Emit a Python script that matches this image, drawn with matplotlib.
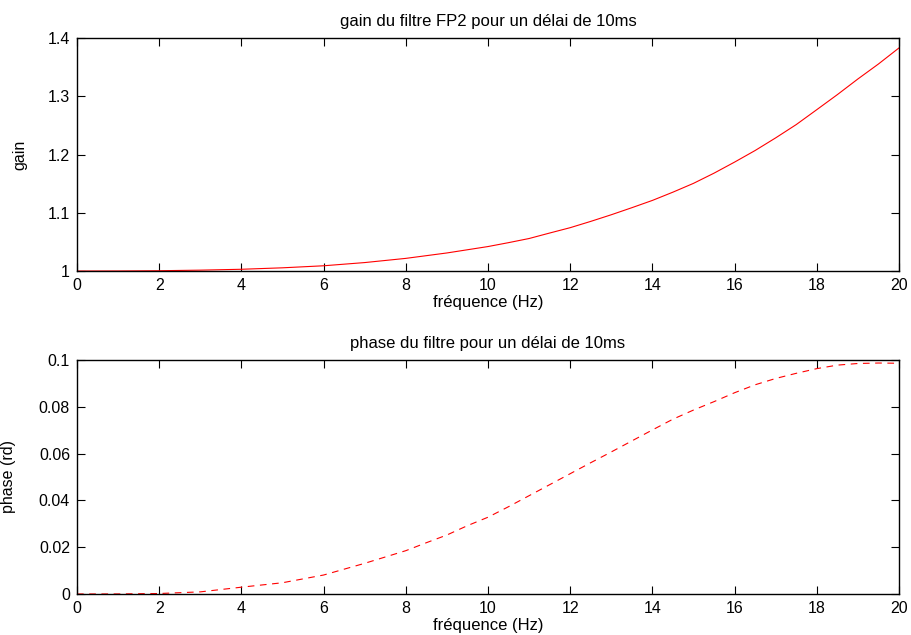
import matplotlib
matplotlib.use("Agg")
import matplotlib.pyplot as plt

plt.rcParams['font.family'] = ['Liberation Sans', 'DejaVu Sans']

gain_freq = [0, 1, 2, 3, 4, 5, 6, 7, 8, 9, 10, 10.5, 11, 11.5, 12, 12.5, 13, 13.5, 14,
             14.5, 15, 15.5, 16, 16.5, 17, 17.5, 18, 18.5, 19, 19.5, 20]
gain = [1.0, 1.0001, 1.0005, 1.0015, 1.003, 1.0055, 1.009, 1.0145, 1.0217, 1.031,
        1.042, 1.0487, 1.0558, 1.0652, 1.0744, 1.0852, 1.0966, 1.1087, 1.1212,
        1.1354, 1.1505, 1.168, 1.187, 1.2069, 1.2286, 1.2514, 1.277, 1.3028,
        1.3297, 1.3554, 1.383]

phase_freq = [0, 1, 2, 3, 4, 5, 6, 7, 8, 8.5, 9, 9.5, 10, 10.5, 11, 11.5, 12, 12.5,
              13, 13.5, 14, 14.5, 15, 15.5, 16, 16.5, 17, 17.5, 18, 18.5, 19, 19.5, 20]
phase = [0.0, 0.00002, 0.0002, 0.0009, 0.0029, 0.0048, 0.0081, 0.0131, 0.0185, 0.0219,
         0.0252, 0.0292, 0.0328, 0.0373, 0.0420, 0.0467, 0.0514, 0.0561, 0.0607,
         0.0654, 0.0701, 0.0747, 0.0786, 0.0822, 0.0860, 0.0894, 0.0921, 0.0943,
         0.0963, 0.0978, 0.0985, 0.0987, 0.0986]

xticks = [0, 2, 4, 6, 8, 10, 12, 14, 16, 18, 20]
gain_ticks = [1, 1.1, 1.2, 1.3, 1.4]
gain_labels = ["1", "1.1", "1.2", "1.3", "1.4"]
phase_ticks = [0, 0.02, 0.04, 0.06, 0.08, 0.1]
phase_labels = ["0", "0.02", "0.04", "0.06", "0.08", "0.1"]

fig = plt.figure(figsize=(9.11, 6.35), dpi=100)
ax1 = fig.add_axes([0.0845, 0.5732, 0.9023, 0.3669])
ax2 = fig.add_axes([0.0845, 0.0646, 0.9023, 0.3685])

tfs = 11.5   # tick labels
lfs = 12     # titles / x labels
yfs = 11.5   # y labels
for ax in (ax1, ax2):
    ax.set_xlim(0, 20)
    ax.set_xticks(xticks)
    ax.set_xticklabels([str(t) for t in xticks])
    ax.tick_params(direction='in', length=6, width=0.8, top=True, right=True,
                   labelsize=tfs, pad=5)
    for s in ax.spines.values():
        s.set_linewidth(1.0)
    ax.set_xlabel("fréquence (Hz)", fontsize=lfs, labelpad=1.5)

ax1.plot(gain_freq, gain, color='red', lw=0.8)
ax1.set_ylim(1, 1.4)
ax1.set_yticks(gain_ticks)
ax1.set_yticklabels(gain_labels)
ax1.set_ylabel("gain", fontsize=yfs)
ax1.yaxis.set_label_coords(-0.0608, 0.5)
ax1.set_title("gain du filtre FP2 pour un délai de 10ms", fontsize=lfs, pad=8.6)

ax2.plot(phase_freq, phase, color='red', lw=0.8, linestyle=(0, (6, 5)))
ax2.set_ylim(0, 0.1)
ax2.set_yticks(phase_ticks)
ax2.set_yticklabels(phase_labels)
ax2.set_ylabel("phase (rd)", fontsize=yfs)
ax2.yaxis.set_label_coords(-0.0742, 0.5)
ax2.set_title("phase du filtre pour un délai de 10ms", fontsize=lfs, pad=8.6)

fig.savefig("out.png", dpi=100)
